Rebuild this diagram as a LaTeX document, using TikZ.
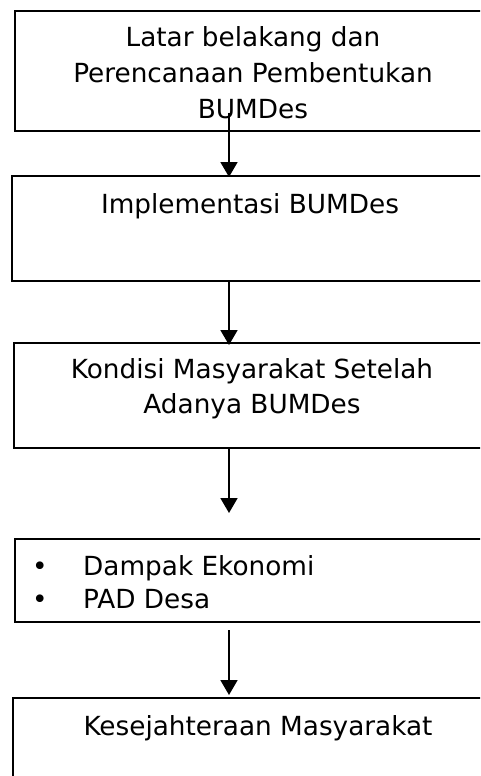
\documentclass[tikz,border=0pt]{standalone}
\usepackage{fontspec}
\setmainfont{DejaVu Sans}
\usetikzlibrary{arrows.meta}
\begin{document}
\begin{tikzpicture}[x=1pt,y=-1pt,
  box/.style={draw, line width=1.8pt, rectangle, anchor=north west, inner sep=0pt, minimum width=520pt},
  label/.style={inner sep=0pt, align=center, anchor=base, font=\fontsize{26.3pt}{36pt}\selectfont},
  flow/.style={line width=1.8pt, -{Triangle[length=15pt,width=17pt]}}]
\useasboundingbox (0,0) rectangle (480,776);
\clip (0,0) rectangle (480,776);
\fill[white] (0,0) rectangle (480,776);

% boxes (they run past the right edge)
\node[box, minimum height=120pt] (b1) at (14,10) {};
\node[box, minimum height=105pt] (b2) at (11,175) {};
\node[box, minimum height=105pt] (b3) at (13,342) {};
\node[box, minimum height=83pt]  (b4) at (14,538) {};
\node[box, minimum height=120pt] (b5) at (12,697) {};

% box texts (a multi-line node sits on its last baseline)
\node[label] (t1) at (253,118) {Latar belakang dan\\Perencanaan Pembentukan\\BUMDes};
\node[label] (t2) at (250,213) {Implementasi BUMDes};
\node[label, font=\fontsize{26.3pt}{35pt}\selectfont] (t3) at (252,413) {Kondisi Masyarakat Setelah\\Adanya BUMDes};
\node[label, anchor=base] (d1) at (40,575) {•};
\node[label, anchor=base] (d2) at (40,608) {•};
\node[label, anchor=base west] (t4a) at (83,575) {Dampak Ekonomi};
\node[label, anchor=base west] (t4b) at (83,608) {PAD Desa};
\node[label] (t5) at (258,735) {Kesejahteraan Masyarakat};

% connectors
\coordinate (s1) at (229,113); \coordinate (e1) at (229,177);
\coordinate (s2) at (229,282); \coordinate (e2) at (229,345);
\coordinate (s3) at (229,448); \coordinate (e3) at (229,513);
\coordinate (s4) at (229,630); \coordinate (e4) at (229,695);
\draw[flow] (s1) -- (e1);
\draw[flow] (s2) -- (e2);
\draw[flow] (s3) -- (e3);
\draw[flow] (s4) -- (e4);
\end{tikzpicture}
\end{document}
